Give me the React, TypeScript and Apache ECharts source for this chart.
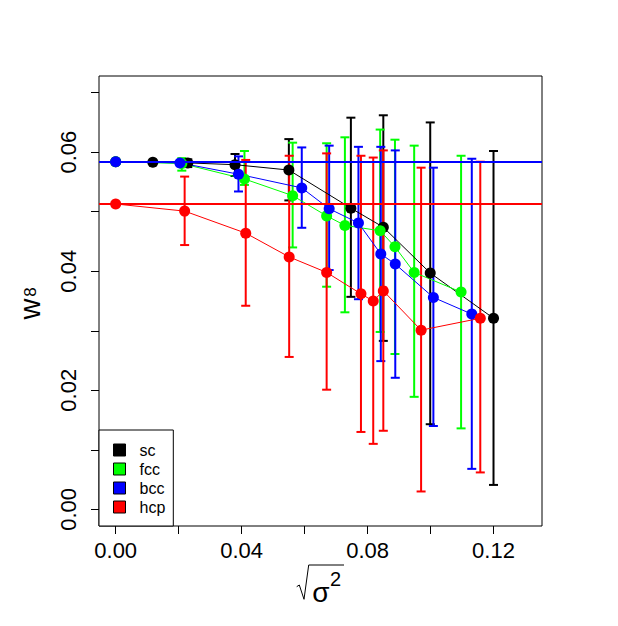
import { useEffect, useRef } from 'react';
import * as echarts from 'echarts';

const xTicks = [0, 0.02, 0.04, 0.06, 0.08, 0.1, 0.12];
const xLabels = [0, 0.04, 0.08, 0.12];
const yTicks = [0, 0.01, 0.02, 0.03, 0.04, 0.05, 0.06, 0.07];
const yLabels = [0, 0.02, 0.04, 0.06];

const seriesNames = ['sc', 'fcc', 'bcc', 'hcp'];
const seriesColors = ['#000000', '#00ff00', '#0000ff', '#ff0000'];

const scX = [0, 0.0118, 0.0229, 0.0379, 0.055, 0.0747, 0.085, 0.0999, 0.12];
const scY = [0.0584, 0.0583, 0.0582, 0.0579, 0.057, 0.0506, 0.0474, 0.0397, 0.0321];
const scLo = [null, null, 0.0575, 0.056, 0.0519, 0.0357, 0.0283, 0.0143, 0.0041];
const scHi = [null, null, 0.0588, 0.0597, 0.0622, 0.0658, 0.0662, 0.065, 0.0602];

const fccX = [0, 0.021, 0.0409, 0.0562, 0.067, 0.0728, 0.084, 0.0887, 0.0948, 0.1097];
const fccY = [0.0584, 0.0581, 0.0555, 0.0527, 0.0493, 0.0477, 0.0468, 0.0441, 0.0398, 0.0365];
const fccLo = [null, 0.0569, 0.0545, 0.044, 0.0374, 0.0331, 0.0298, 0.0261, 0.0189, 0.0136];
const fccHi = [null, 0.059, 0.0602, 0.0616, 0.0615, 0.0625, 0.0638, 0.0621, 0.0611, 0.0594];

const bccX = [0, 0.0204, 0.039, 0.0591, 0.0678, 0.0771, 0.0842, 0.0888, 0.1009, 0.1131];
const bccY = [0.0584, 0.0582, 0.0563, 0.054, 0.0505, 0.0481, 0.0429, 0.0412, 0.0356, 0.0328];
const bccLo = [null, null, 0.0534, 0.0473, 0.0402, 0.0353, 0.0249, 0.0221, 0.014, 0.0068];
const bccHi = [null, null, 0.0593, 0.0608, 0.0611, 0.0609, 0.0609, 0.0603, 0.0574, 0.0589];

const hcpX = [0, 0.0219, 0.0413, 0.0551, 0.067, 0.0779, 0.0818, 0.085, 0.097, 0.1158];
const hcpY = [0.0513, 0.0501, 0.0464, 0.0424, 0.0398, 0.0362, 0.035, 0.0367, 0.0301, 0.0321];
const hcpLo = [null, 0.0444, 0.0342, 0.0256, 0.0201, 0.013, 0.011, 0.0132, 0.003, 0.0062];
const hcpHi = [null, 0.0559, 0.0587, 0.0594, 0.0598, 0.0594, 0.0591, 0.0603, 0.0574, 0.0584];

const refValues = [0.0584, 0.0513];
const refColors = ['#0000ff', '#ff0000'];

const allX = [scX, fccX, bccX, hcpX];
const allY = [scY, fccY, bccY, hcpY];
const allLo = [scLo, fccLo, bccLo, hcpLo];
const allHi = [scHi, fccHi, bccHi, hcpHi];

const FONT = 'Liberation Sans, Arial, sans-serif';

function errRender(color: string) {
  return (params: any, api: any) => {
    const x = api.value(0);
    const top = api.coord([x, api.value(2)]);
    const bot = api.coord([x, api.value(1)]);
    const w = 4.5;
    const style = { stroke: color, lineWidth: 2 };
    return {
      type: 'group',
      children: [
        { type: 'line', shape: { x1: top[0], y1: top[1], x2: bot[0], y2: bot[1] }, style },
        { type: 'line', shape: { x1: top[0] - w, y1: top[1], x2: top[0] + w, y2: top[1] }, style },
        { type: 'line', shape: { x1: bot[0] - w, y1: bot[1], x2: bot[0] + w, y2: bot[1] }, style },
      ],
    };
  };
}

function buildSeries() {
  const out: any[] = [];
  seriesNames.forEach((name, i) => {
    const color = seriesColors[i];
    const errData: any[] = [];
    allX[i].forEach((x, j) => {
      const lo = allLo[i][j];
      const hi = allHi[i][j];
      if (lo != null && hi != null) errData.push([x, lo, hi]);
    });
    out.push({
      type: 'custom',
      name: name + '-err',
      renderItem: errRender(color),
      encode: { x: 0, y: [1, 2] },
      data: errData,
      z: 2,
    });
    out.push({
      type: 'line',
      name,
      data: allX[i].map((x, j) => [x, allY[i][j]]),
      symbol: 'circle',
      symbolSize: 11,
      showSymbol: true,
      lineStyle: { color, width: 1 },
      itemStyle: { color },
      z: 2,
    });
  });
  out.push({
    type: 'line',
    name: 'ref',
    data: [],
    z: 5,
    markLine: {
      silent: true,
      precision: 6,
      symbol: ['none', 'none'],
      label: { show: false },
      data: refValues.map((v, k) => ({ yAxis: v, lineStyle: { color: refColors[k], width: 2, type: 'solid' } })),
    },
  });
  return out;
}

export default function App() {
  const ref = useRef<HTMLDivElement>(null);
  useEffect(() => {
    const chart = echarts.init(ref.current!, null, { renderer: 'svg' });
    const option: any = {
      animation: false,
      backgroundColor: '#ffffff',
      grid: {
        left: 99,
        right: 76,
        top: 76,
        bottom: 100,
        show: true,
        borderColor: '#000',
        borderWidth: 1,
        backgroundColor: 'transparent',
      },
      xAxis: {
        type: 'value',
        min: -0.0053,
        max: 0.1354,
        axisLine: { show: false, onZero: false },
        splitLine: { show: false },
        axisTick: { show: true, inside: false, length: 8, customValues: xTicks, lineStyle: { color: '#000', width: 1 } },
        axisLabel: {
          customValues: xLabels,
          formatter: (v: number) => v.toFixed(2),
          fontSize: 22,
          fontFamily: FONT,
          color: '#000',
          margin: 13,
        },
      },
      yAxis: {
        type: 'value',
        min: -0.0028,
        max: 0.0728,
        axisLine: { show: false, onZero: false },
        splitLine: { show: false },
        axisTick: { show: true, inside: false, length: 8, customValues: yTicks, lineStyle: { color: '#000', width: 1 } },
        axisLabel: {
          customValues: yLabels,
          formatter: (v: number) => v.toFixed(2),
          fontSize: 22,
          fontFamily: FONT,
          color: '#000',
          rotate: 90,
          margin: 20,
        },
      },
      legend: {
        data: seriesNames,
        orient: 'vertical',
        left: 99,
        top: 430,
        icon: 'rect',
        itemWidth: 12,
        itemHeight: 12,
        itemGap: 3,
        padding: [12, 8, 11, 14],
        borderColor: '#000',
        borderWidth: 1,
        backgroundColor: '#fff',
        borderRadius: 0,
        itemStyle: { borderColor: '#000', borderWidth: 1 },
        textStyle: { fontSize: 16, fontFamily: FONT, color: '#000', padding: [0, 0, 0, 9] },
        selectedMode: false,
        z: 10,
      },
      graphic: [
        { type: 'text', x: 30, y: 309, rotation: Math.PI / 2, style: { text: 'w', fontSize: 29, fontFamily: FONT, fill: '#000', align: 'center', verticalAlign: 'middle' } },
        { type: 'text', x: 30, y: 292, rotation: Math.PI / 2, style: { text: '8', fontSize: 17, fontFamily: FONT, fill: '#000', align: 'center', verticalAlign: 'middle' } },
        { type: 'polyline', shape: { points: [[296.7, 586.7], [299.3, 585], [304, 599.3], [308.7, 565], [344, 565]] }, style: { stroke: '#000', lineWidth: 1, fill: 'none' } },
        { type: 'text', x: 321, y: 592, style: { text: 'σ', fontSize: 28, fontFamily: FONT, fill: '#000', align: 'center', verticalAlign: 'middle' } },
        { type: 'text', x: 335.5, y: 579, style: { text: '2', fontSize: 20, fontFamily: FONT, fill: '#000', align: 'center', verticalAlign: 'middle' } },
      ],
      series: buildSeries(),
    };
    chart.setOption(option);
    return () => chart.dispose();
  }, []);
  return <div ref={ref} style={{ position: 'fixed', left: 0, top: 0, width: 618, height: 626, background: '#fff' }} />;
}
